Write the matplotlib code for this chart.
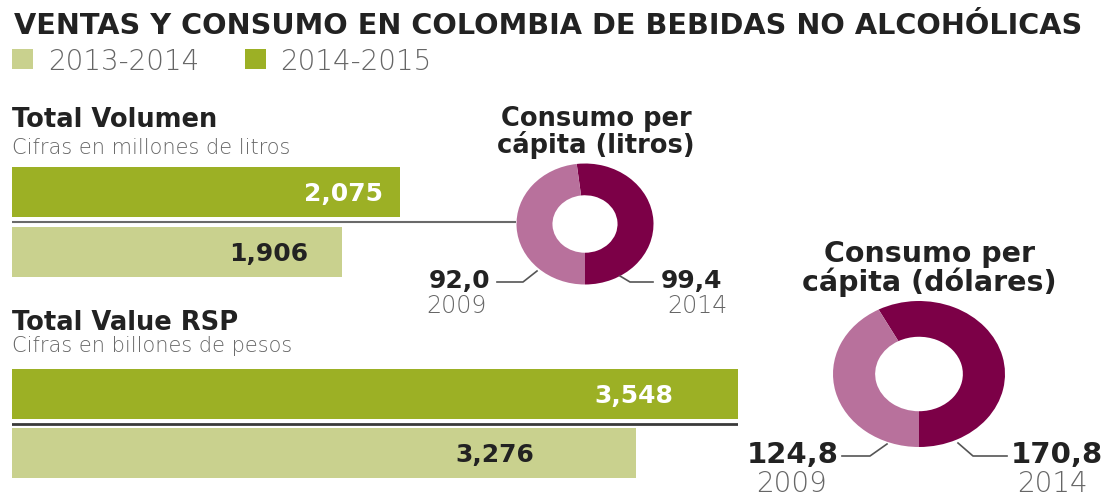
# -*- coding: utf-8 -*-
import matplotlib
matplotlib.use('Agg')
import matplotlib.pyplot as plt
from matplotlib.lines import Line2D
from matplotlib.patches import Rectangle

# Datos
periodos = ['2013-2014', '2014-2015']
volumen = [1906, 2075]          # millones de litros
valor_rsp = [3276, 3548]        # billones de pesos
anios_capita = ['2009', '2014']
litros_capita = [92.0, 99.4]
dolares_capita = [124.8, 170.8]

# Colores
verde_claro = '#c9d18e'
verde = '#9cb025'
morado_claro = '#b8719c'
morado = '#7c0047'
gris_texto = '#666666'
negro = '#222222'

W, H = 1112, 502
fig = plt.figure(figsize=(W / 100, H / 100), dpi=100)
fig.patch.set_facecolor('white')

BOLD = dict(family=['DejaVu Sans'], fontweight='bold', color=negro)
LIGHT = dict(family=['DejaVu Sans'], fontweight=200, color=gris_texto)


def caja(x0, y0, x1, y1):
    # rectangulo en pixeles (origen arriba a la izquierda) -> fraccion de figura
    return [x0 / W, 1 - y1 / H, (x1 - x0) / W, (y1 - y0) / H]


def texto(x, y, s, **kw):
    fig.text(x / W, 1 - y / H, s, va='baseline', **kw)


def linea(xs, ys, color='#555555', lw=1.2):
    fig.add_artist(Line2D([x / W for x in xs], [1 - y / H for y in ys],
                          transform=fig.transFigure, color=color, lw=lw))


def miles(v):
    return f'{v:,}'


def decimal(v):
    return f'{v:.1f}'.replace('.', ',')


# Titulo y leyenda
texto(14, 34, 'VENTAS Y CONSUMO EN COLOMBIA DE BEBIDAS NO ALCOHÓLICAS',
      fontsize=20.7, **BOLD)
for (x_sq, x_tx), per, col in zip([(12, 48), (245, 280)], periodos, [verde_claro, verde]):
    fig.add_artist(Rectangle((x_sq / W, 1 - 70 / H), 21 / W, 20 / H,
                             transform=fig.transFigure, color=col, lw=0))
    texto(x_tx, 70, per, fontsize=20, **LIGHT)


def panel_barras(rect, valores, xlim, titulo, subtitulo, y_tit, y_sub,
                 pads, color_sep, lw_sep):
    ax = fig.add_axes(caja(*rect))
    colores = [verde_claro, verde]
    colores_txt = [negro, 'white']
    ax.barh([0, 1], valores, height=0.833, color=colores, lw=0)
    ax.axhline(0.5, color=color_sep, lw=lw_sep)
    for i, v in enumerate(valores):
        ax.annotate(miles(v), xy=(v, i), xytext=(-pads[i] * 0.72, -8 * 0.72),
                    textcoords='offset points', ha='right', va='baseline',
                    fontsize=18, fontweight='bold', color=colores_txt[i])
    ax.set_xlim(*xlim)
    ax.set_ylim(-0.4167, 1.4167)
    ax.axis('off')
    texto(rect[0], y_tit, titulo, fontsize=18.5, **BOLD)
    texto(rect[0], y_sub, subtitulo, fontsize=15, **LIGHT)


panel_barras((12, 168, 516, 278), volumen, (945, 2413), 'Total Volumen',
             'Cifras en millones de litros', 127, 154, [34, 17], '#6a6a6a', 1.5)
panel_barras((12, 370, 738, 479), valor_rsp, (1612, 3548), 'Total Value RSP',
             'Cifras en billones de pesos', 330, 352, [102, 65], '#3a3a3a', 2.0)


def dona(rect, valores, hueco):
    ax = fig.add_axes(caja(*rect))
    # el valor reciente en oscuro, terminando en la parte de abajo
    frac = valores[1] / sum(valores)
    ax.pie([valores[1], valores[0]], colors=[morado, morado_claro],
           startangle=360 * frac - 90, counterclock=False,
           wedgeprops=dict(width=1 - hueco, lw=0))
    ax.set_aspect('auto')
    ax.set_xlim(-1, 1)
    ax.set_ylim(-1, 1)
    ax.axis('off')


# Consumo per capita (litros)
dona((516.5, 164.5, 653.5, 285.5), litros_capita, 0.475)
texto(596, 126, 'Consumo per', ha='center', fontsize=18.5, **BOLD)
texto(596, 153, 'cápita (litros)', ha='center', fontsize=18.5, **BOLD)
linea([497, 523, 537], [283, 283, 272])
linea([620, 630, 653], [277, 283, 283])
texto(490, 288, decimal(litros_capita[0]), ha='right', fontsize=18, **BOLD)
texto(456, 313, anios_capita[0], ha='center', fontsize=17, **LIGHT)
texto(661, 288, decimal(litros_capita[1]), ha='left', fontsize=18, **BOLD)
texto(697, 313, anios_capita[1], ha='center', fontsize=17, **LIGHT)

# Consumo per capita (dolares)
dona((833, 302, 1005, 448), dolares_capita, 0.51)
texto(929, 262, 'Consumo per', ha='center', fontsize=20.5, **BOLD)
texto(929, 291, 'cápita (dólares)', ha='center', fontsize=20.5, **BOLD)
linea([842, 870, 887], [457, 457, 445])
linea([958, 973, 1007], [444, 457, 457])
texto(839, 463, decimal(dolares_capita[0]), ha='right', fontsize=21, **BOLD)
texto(791, 492, anios_capita[0], ha='center', fontsize=20, **LIGHT)
texto(1011, 463, decimal(dolares_capita[1]), ha='left', fontsize=21, **BOLD)
texto(1052, 492, anios_capita[1], ha='center', fontsize=20, **LIGHT)

fig.savefig('out.png', dpi=100, facecolor='white')
